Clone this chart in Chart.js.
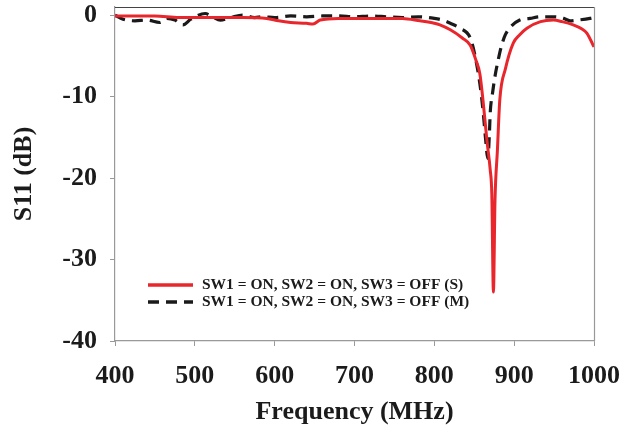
<!DOCTYPE html>
<html lang="en">
<head>
    <meta charset="UTF-8">
    <title>S11 vs Frequency</title>
    <script src="https://cdn.jsdelivr.net/npm/chart.js"></script>
    <style>
        body {
            margin: 0;
            background: #fff;
        }

        #wrap {
            width: 632px;
            height: 436px;
        }
    </style>
</head>
<body>
    <div id="wrap"><canvas id="grafico" width="632" height="436"></canvas></div>

    <script>
        // SW1 = ON, SW2 = ON, SW3 = OFF (S) - simulated
        const freqS = [400, 450, 480, 520, 560, 590, 605, 620, 640, 648, 657, 680, 720, 760, 782, 800, 807, 820, 835, 845, 852, 857, 861, 866, 870, 872, 874, 876, 879, 882, 889, 899, 907, 916, 933, 949, 960, 974, 985, 991, 1000];
        const s11S = [-0.1, -0.1, -0.3, -0.3, -0.3, -0.4, -0.7, -0.9, -1.0, -1.1, -0.6, -0.4, -0.4, -0.4, -0.7, -1.0, -1.2, -1.8, -2.8, -3.7, -5.5, -7.2, -10.5, -15.5, -19, -22, -34, -22.7, -16.6, -10.4, -6.6, -3.4, -2.4, -1.6, -0.8, -0.6, -0.8, -1.2, -1.7, -2.2, -3.9];

        // SW1 = ON, SW2 = ON, SW3 = OFF (M) - measured
        const freqM = [400, 410, 425, 440, 456, 465, 475, 485, 495, 513, 522, 532, 545, 560, 575, 585, 600, 620, 640, 660, 680, 700, 720, 740, 760, 780, 800, 810, 820, 832, 845, 851, 857, 861, 864, 867, 869, 870, 873, 876, 880, 884, 889, 895, 907, 920, 932, 951, 962, 970, 980, 995, 1000];
        const s11M = [0, -0.5, -0.7, -0.6, -0.9, -0.4, -0.6, -1.2, -0.5, 0.2, -0.2, -0.6, -0.3, 0, -0.3, -0.2, -0.3, -0.1, -0.2, -0.1, -0.1, -0.2, -0.1, -0.2, -0.3, -0.2, -0.4, -0.6, -1.0, -1.6, -2.8, -5, -8.4, -11.7, -15, -17.6, -14.5, -12, -9.5, -7.5, -5.5, -3.8, -2.4, -1.5, -0.6, -0.4, -0.2, -0.2, -0.4, -0.7, -0.6, -0.4, -0.3];

        const xTicks = [400, 500, 600, 700, 800, 900, 1000];
        const yTicks = [-40, -30, -20, -10, 0];
        const seriesNames = ['SW1 = ON, SW2 = ON, SW3 = OFF (S)', 'SW1 = ON, SW2 = ON, SW3 = OFF (M)'];

        const fuente = '"Liberation Serif", "Times New Roman", serif';
        const colorTexto = '#1b1b1b';

        function puntos(xs, ys) {
            return xs.map((x, i) => ({ x: x, y: ys[i] }));
        }

        // marco superior/derecho y leyenda dentro del area
        const extras = {
            id: 'extras',
            afterDatasetsDraw(chart) {
                const { ctx, chartArea } = chart;
                ctx.save();
                ctx.lineWidth = 1.2;
                ctx.strokeStyle = '#444';
                ctx.beginPath();
                ctx.moveTo(chartArea.left, chartArea.top + 0.5);
                ctx.lineTo(chartArea.right, chartArea.top + 0.5);
                ctx.stroke();
                ctx.strokeStyle = '#999';
                ctx.beginPath();
                ctx.moveTo(chartArea.right + 0.5, chartArea.top);
                ctx.lineTo(chartArea.right + 0.5, chartArea.bottom);
                ctx.stroke();

                const lx = 148, ly = [285, 302];
                chart.data.datasets.forEach((ds, i) => {
                    ctx.strokeStyle = ds.borderColor;
                    ctx.lineWidth = 3.5;
                    ctx.setLineDash(ds.borderDash || []);
                    ctx.beginPath();
                    ctx.moveTo(lx, ly[i]);
                    ctx.lineTo(lx + 45, ly[i]);
                    ctx.stroke();
                    ctx.setLineDash([]);
                    ctx.fillStyle = colorTexto;
                    ctx.font = 'bold 15.5px ' + fuente;
                    ctx.textBaseline = 'middle';
                    ctx.fillText(ds.label, 202, ly[i]);
                });
                ctx.restore();
            }
        };

        const ctx = document.getElementById('grafico').getContext('2d');

        new Chart(ctx, {
            type: 'scatter',
            data: {
                datasets: [{
                    label: seriesNames[0],
                    data: puntos(freqS, s11S),
                    showLine: true,
                    borderColor: '#e8262b',
                    borderWidth: 3,
                    pointRadius: 0,
                    cubicInterpolationMode: 'monotone'
                }, {
                    label: seriesNames[1],
                    data: puntos(freqM, s11M),
                    showLine: true,
                    borderColor: '#1a1a1a',
                    borderWidth: 3.2,
                    borderDash: [11, 7],
                    pointRadius: 0,
                    cubicInterpolationMode: 'monotone'
                }]
            },
            options: {
                responsive: false,
                animation: false,
                layout: { padding: { top: 7, right: 38, left: 0, bottom: 0 } },
                plugins: {
                    legend: { display: false },
                    tooltip: { enabled: false }
                },
                scales: {
                    x: {
                        type: 'linear',
                        min: 400,
                        max: 1000,
                        afterBuildTicks: axis => { axis.ticks = xTicks.map(v => ({ value: v })); },
                        afterFit: axis => {
                            axis.height = 95;
                            axis.paddingLeft = 0;
                            axis.paddingRight = 0;
                        },
                        grid: { drawOnChartArea: false, color: '#999', tickLength: 5 },
                        border: { color: '#999', width: 1.2 },
                        ticks: {
                            color: colorTexto,
                            padding: 15,
                            maxRotation: 0,
                            callback: v => String(v),
                            font: { family: fuente, size: 26, weight: 'bold' }
                        },
                        title: {
                            display: true,
                            text: 'Frequency (MHz)',
                            color: colorTexto,
                            padding: { top: 8, bottom: 8 },
                            font: { family: fuente, size: 26, weight: 'bold' }
                        }
                    },
                    y: {
                        min: -40,
                        max: 1,
                        afterBuildTicks: axis => { axis.ticks = yTicks.map(v => ({ value: v })); },
                        afterFit: axis => {
                            axis.width = 115;
                            axis.paddingTop = 0;
                            axis.paddingBottom = 0;
                        },
                        grid: { drawOnChartArea: false, color: '#999', tickLength: 5 },
                        border: { color: '#999', width: 1.2 },
                        ticks: {
                            color: colorTexto,
                            padding: 13,
                            font: { family: fuente, size: 26, weight: 'bold' }
                        },
                        title: {
                            display: true,
                            text: 'S11 (dB)',
                            color: colorTexto,
                            padding: { top: 9, bottom: 9 },
                            font: { family: fuente, size: 26, weight: 'bold' }
                        }
                    }
                }
            },
            plugins: [extras]
        });
    </script>
</body>
</html>
